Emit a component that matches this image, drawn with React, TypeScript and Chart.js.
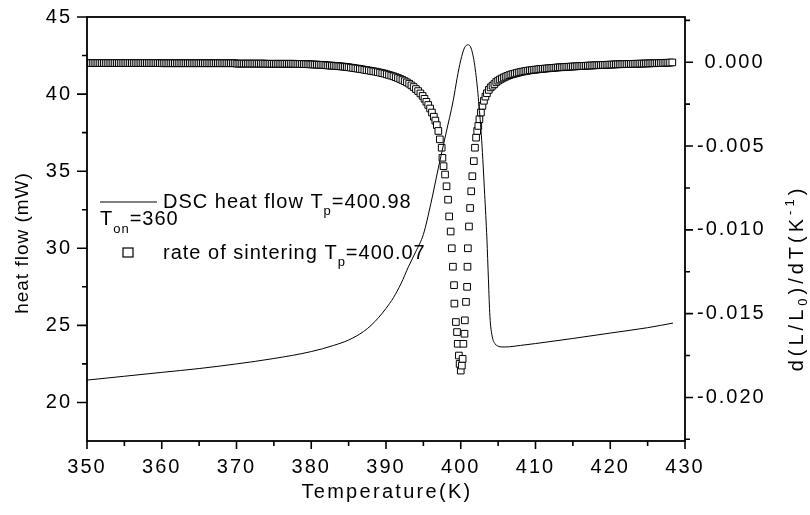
import React, { useEffect, useRef } from 'react';
import { Chart, registerables } from 'chart.js';

Chart.register(...registerables);

// ---------- data ----------
const dscTemp = [
  350, 355, 360, 365, 370, 375, 380, 383, 385, 387, 388, 389, 390, 391, 392, 393, 394, 395,
  396, 397, 398, 399, 399.5, 400, 400.5, 401, 401.5, 402, 402.4, 402.8, 403.2, 403.5, 403.7,
  403.9, 404.2, 404.6, 405, 405.5, 406, 408, 410, 415, 420, 425, 428.4,
];
const dscHeatFlow = [
  21.45, 21.7, 21.95, 22.2, 22.5, 22.85, 23.3, 23.7, 24.05, 24.6, 25.0, 25.5, 26.1, 26.8, 27.7,
  28.8, 29.8, 30.9, 32.9, 35.2, 37.4, 39.6, 41.0, 42.2, 43.0, 43.2, 42.8, 41.4, 39.5, 37.0, 33.5,
  30.6, 28.0, 25.6, 24.3, 23.8, 23.65, 23.6, 23.6, 23.7, 23.82, 24.15, 24.5, 24.85, 25.15,
];

const sinterTemp = [
  350, 350.25, 350.5, 350.75, 351, 351.25, 351.5, 351.75, 352, 352.25, 352.5, 352.75, 353, 353.25, 353.5, 353.75,
  354, 354.25, 354.5, 354.75, 355, 355.25, 355.5, 355.75, 356, 356.25, 356.5, 356.75, 357, 357.25, 357.5, 357.75,
  358, 358.25, 358.5, 358.75, 359, 359.25, 359.5, 359.75, 360, 360.25, 360.5, 360.75, 361, 361.25, 361.5, 361.75,
  362, 362.25, 362.5, 362.75, 363, 363.25, 363.5, 363.75, 364, 364.25, 364.5, 364.75, 365, 365.25, 365.5, 365.75,
  366, 366.25, 366.5, 366.75, 367, 367.25, 367.5, 367.75, 368, 368.25, 368.5, 368.75, 369, 369.25, 369.5, 369.75,
  370, 370.25, 370.5, 370.75, 371, 371.25, 371.5, 371.75, 372, 372.25, 372.5, 372.75, 373, 373.25, 373.5, 373.75,
  374, 374.25, 374.5, 374.75, 375, 375.25, 375.5, 375.75, 376, 376.25, 376.5, 376.75, 377, 377.25, 377.5, 377.75,
  378, 378.25, 378.5, 378.75, 379, 379.25, 379.5, 379.75, 380, 380.25, 380.5, 380.75, 381, 381.25, 381.5, 381.75,
  382, 382.25, 382.5, 382.75, 383, 383.25, 383.5, 383.75, 384, 384.25, 384.5, 384.75,
  385, 385.3, 385.6, 385.9, 386.2, 386.5, 386.8, 387.1, 387.4, 387.7, 388, 388.3, 388.6, 388.9,
  389.2, 389.5, 389.8, 390.1, 390.4, 390.7, 391, 391.3, 391.6, 391.9, 392.2, 392.5, 392.8, 393.1,
  393.4, 393.7, 394, 394.3, 394.6, 394.9, 395.15, 395.4, 395.65, 395.9, 396.15, 396.4, 396.6,
  396.8, 397.0, 397.2, 397.45, 397.55, 397.7, 397.9, 398.1, 398.3, 398.45,
  398.65, 398.8, 398.95, 399.1, 399.15, 399.35, 399.5, 399.6, 399.75, 399.85, 400.0,
  400.15, 400.25, 400.35, 400.5, 400.55, 400.7, 400.85, 400.9, 400.95, 401.1, 401.25, 401.4,
  401.55, 401.75, 401.9, 402.05, 402.2, 402.35, 402.5, 402.7, 402.9, 403.1, 403.3, 403.5, 403.75,
  404.0, 404.25, 404.5, 404.75,
  405, 405.25, 405.5, 405.75, 406, 406.25, 406.5, 406.75, 407, 407.25, 407.5, 407.75,
  408, 408.25, 408.5, 408.75, 409, 409.25, 409.5, 409.75, 410, 410.25, 410.5, 410.75,
  411, 411.25, 411.5, 411.75, 412, 412.25, 412.5, 412.75, 413, 413.25, 413.5, 413.75,
  414, 414.25, 414.5, 414.75, 415, 415.25, 415.5, 415.75, 416, 416.25, 416.5, 416.75,
  417, 417.25, 417.5, 417.75, 418, 418.25, 418.5, 418.75, 419, 419.25, 419.5, 419.75,
  420, 420.25, 420.5, 420.75, 421, 421.25, 421.5, 421.75, 422, 422.25, 422.5, 422.75,
  423, 423.25, 423.5, 423.75, 424, 424.25, 424.5, 424.75, 425, 425.25, 425.5, 425.75,
  426, 426.25, 426.5, 426.75, 427, 427.25, 427.5, 427.75, 428, 428.3,
];
const sinterRate = [
  // 350 - 359.75
  -0.00005, -0.00005, -0.00005, -0.00005, -0.00005, -0.00005, -0.00005, -0.00005, -0.00005, -0.00005,
  -0.00005, -0.00005, -0.00005, -0.00005, -0.00005, -0.00005, -0.00005, -0.00005, -0.00005, -0.00005,
  -0.00005, -0.00005, -0.00005, -0.00005, -0.00005, -0.00005, -0.00005, -0.00005, -0.00005, -0.00005,
  -0.00005, -0.00005, -0.00005, -0.00005, -0.00005, -0.00005, -0.00005, -0.00005, -0.00005, -0.00005,
  // 360 - 369.75
  -0.00006, -0.00006, -0.00006, -0.00006, -0.00006, -0.00006, -0.00006, -0.00006, -0.00006, -0.00006,
  -0.00006, -0.00006, -0.00006, -0.00006, -0.00006, -0.00006, -0.00006, -0.00006, -0.00006, -0.00006,
  -0.00006, -0.00006, -0.00006, -0.00006, -0.00006, -0.00006, -0.00006, -0.00006, -0.00006, -0.00006,
  -0.00006, -0.00006, -0.00006, -0.00006, -0.00006, -0.00006, -0.00006, -0.00006, -0.00006, -0.00006,
  // 370 - 377.75
  -0.00008, -0.00008, -0.00008, -0.00008, -0.00008, -0.00008, -0.00008, -0.00008, -0.00008, -0.00008,
  -0.00008, -0.00008, -0.00008, -0.00008, -0.00008, -0.00008, -0.00009, -0.00009, -0.00009, -0.00009,
  -0.00009, -0.00009, -0.00009, -0.00009, -0.00009, -0.00009, -0.00009, -0.00009, -0.00009, -0.00009,
  -0.00009, -0.00009,
  // 378 - 384.75
  -0.0001, -0.0001, -0.0001, -0.0001, -0.00011, -0.00011, -0.00012, -0.00012, -0.00013, -0.00013,
  -0.00014, -0.00014, -0.00015, -0.00015, -0.00016, -0.00016, -0.00018, -0.00019, -0.0002, -0.0002,
  -0.00021, -0.00022, -0.00023, -0.00024, -0.00025, -0.00026, -0.00027, -0.00028,
  // 385 - 400.0
  -0.0003, -0.00032, -0.00034, -0.00036, -0.00038, -0.0004, -0.00042, -0.00045, -0.00047, -0.00049,
  -0.00052, -0.00054, -0.00056, -0.00059, -0.00062, -0.00065, -0.00068, -0.00072, -0.00076, -0.0008,
  -0.00084, -0.00089, -0.00094, -0.001, -0.00106, -0.00113, -0.0012, -0.00128, -0.00138, -0.00148,
  -0.0016, -0.00172, -0.00186, -0.00201, -0.00218, -0.00236, -0.00255, -0.00276, -0.003, -0.00325,
  -0.00348, -0.00375, -0.0041, -0.0046, -0.0051, -0.0057, -0.0062, -0.0067, -0.0074, -0.0082, -0.0092,
  -0.0101, -0.0111, -0.0122, -0.0133, -0.0144, -0.0155, -0.0161, -0.0168, -0.0175, -0.018, -0.0184,
  // 400.15 - 404.75
  -0.0181, -0.0177, -0.0168, -0.0162, -0.0154, -0.0143, -0.0134, -0.0122, -0.0111, -0.0098, -0.0087,
  -0.0077, -0.0068, -0.0059, -0.0051, -0.0045, -0.0041, -0.0038, -0.0034, -0.003, -0.0026, -0.0023,
  -0.00205, -0.00185, -0.00165, -0.0015, -0.0014, -0.0013, -0.00118,
  // 405 - 407.75
  -0.0011, -0.00103, -0.00097, -0.00091, -0.00086, -0.00081, -0.00077, -0.00073, -0.0007, -0.00067,
  -0.00064, -0.00061,
  // 408 - 410.75
  -0.00058, -0.00056, -0.00054, -0.00052, -0.0005, -0.00048, -0.00047, -0.00045, -0.00044, -0.00043,
  -0.00041, -0.0004,
  // 411 - 413.75
  -0.00039, -0.00038, -0.00037, -0.00036, -0.00035, -0.00034, -0.00033, -0.00032, -0.00031, -0.0003,
  -0.0003, -0.00029,
  // 414 - 416.75
  -0.00028, -0.00027, -0.00027, -0.00026, -0.00025, -0.00025, -0.00024, -0.00023, -0.00023, -0.00022,
  -0.00022, -0.00021,
  // 417 - 419.75
  -0.0002, -0.0002, -0.00019, -0.00019, -0.00018, -0.00018, -0.00017, -0.00017, -0.00016, -0.00016,
  -0.00015, -0.00015,
  // 420 - 422.75
  -0.00014, -0.00014, -0.00013, -0.00013, -0.00012, -0.00012, -0.00012, -0.00011, -0.00011, -0.00011,
  -0.0001, -0.0001,
  // 423 - 425.75
  -0.0001, -0.00009, -0.00009, -0.00009, -0.00008, -0.00008, -0.00008, -0.00007, -0.00007, -0.00007,
  -0.00006, -0.00006,
  // 426 - 428.3
  -0.00006, -0.00005, -0.00005, -0.00005, -0.00004, -0.00004, -0.00003, -0.00003, -0.00002, -0.00001,
];

const xTicks = [350, 360, 370, 380, 390, 400, 410, 420, 430];
const xMinorTicks = [355, 365, 375, 385, 395, 405, 415, 425];
const leftTicks = [20, 25, 30, 35, 40, 45];
const leftMinorTicks = [22.5, 27.5, 32.5, 37.5, 42.5];
const rightTicks = [-0.02, -0.015, -0.01, -0.005, 0];
const rightMinorTicks = [-0.0225, -0.0175, -0.0125, -0.0075, -0.0025, 0.0025];

const xTitle = 'Temperature(K)';
const leftTitle = 'heat flow (mW)';
const dscLegend = ['DSC heat flow T', 'p', '=400.98'];
const onsetLegend = ['T', 'on', '=360'];
const sinterLegend = ['rate of sintering T', 'p', '=400.07'];

const FAMILY = '"Liberation Sans", Arial, Helvetica, sans-serif';
const TICK_SPACING = '2px';

type Part = { t: string; size: number; dy: number };

function drawParts(ctx: CanvasRenderingContext2D, x: number, y: number, parts: Part[]) {
  let cx = x;
  for (const p of parts) {
    ctx.font = `${p.size}px ${FAMILY}`;
    ctx.fillText(p.t, cx, y + p.dy);
    cx += ctx.measureText(p.t).width;
  }
  return cx - x;
}

function partsWidth(ctx: CanvasRenderingContext2D, parts: Part[]) {
  let w = 0;
  for (const p of parts) {
    ctx.font = `${p.size}px ${FAMILY}`;
    w += ctx.measureText(p.t).width;
  }
  return w;
}

const decorPlugin = {
  id: 'decor',
  beforeUpdate(chart: any) {
    (chart.ctx as any).letterSpacing = TICK_SPACING;
  },
  beforeDraw(chart: any) {
    (chart.ctx as any).letterSpacing = TICK_SPACING;
  },
  afterDraw(chart: any) {
    const ctx: CanvasRenderingContext2D = chart.ctx;
    const { left, right, top, bottom } = chart.chartArea;
    const sx = chart.scales.x;
    const sy = chart.scales.y;
    const sy2 = chart.scales.y2;
    ctx.save();
    ctx.strokeStyle = '#000';
    ctx.lineWidth = 1.8;
    ctx.strokeRect(left, top, right - left, bottom - top);

    ctx.lineWidth = 1.6;
    ctx.beginPath();
    for (const v of xTicks) {
      const px = sx.getPixelForValue(v);
      ctx.moveTo(px, bottom);
      ctx.lineTo(px, bottom + 8);
    }
    for (const v of xMinorTicks) {
      const px = sx.getPixelForValue(v);
      ctx.moveTo(px, bottom);
      ctx.lineTo(px, bottom + 5);
    }
    for (const v of leftTicks) {
      const py = sy.getPixelForValue(v);
      ctx.moveTo(left, py);
      ctx.lineTo(left - 10, py);
    }
    for (const v of leftMinorTicks) {
      const py = sy.getPixelForValue(v);
      ctx.moveTo(left, py);
      ctx.lineTo(left - 5, py);
    }
    for (const v of rightTicks) {
      const py = sy2.getPixelForValue(v);
      ctx.moveTo(right, py);
      ctx.lineTo(right + 8, py);
    }
    for (const v of rightMinorTicks) {
      const py = sy2.getPixelForValue(v);
      if (py < top || py > bottom) continue;
      ctx.moveTo(right, py);
      ctx.lineTo(right + 5, py);
    }
    ctx.stroke();

    ctx.fillStyle = '#000';
    ctx.textBaseline = 'middle';

    // x title
    (ctx as any).letterSpacing = '2.3px';
    ctx.font = `20px ${FAMILY}`;
    ctx.textAlign = 'center';
    ctx.fillText(xTitle, (left + right) / 2 + 1, 492);

    // left title
    (ctx as any).letterSpacing = '1px';
    ctx.font = `19px ${FAMILY}`;
    ctx.save();
    ctx.translate(23, 243);
    ctx.rotate(-Math.PI / 2);
    ctx.fillText(leftTitle, 0, 0);
    ctx.restore();

    // right title  d(L/L0)/dT(K-1)
    ctx.textAlign = 'left';
    (ctx as any).letterSpacing = '4px';
    const rParts: Part[] = [
      { t: 'd(L/L', size: 20, dy: 0 },
      { t: '0', size: 13, dy: 6 },
      { t: ')/dT(K', size: 20, dy: 0 },
      { t: '-1', size: 13, dy: -7 },
      { t: ')', size: 20, dy: 0 },
    ];
    const rw = partsWidth(ctx, rParts);
    ctx.save();
    ctx.translate(797, 278);
    ctx.rotate(-Math.PI / 2);
    drawParts(ctx, -rw / 2, 0, rParts);
    ctx.restore();

    // legend
    (ctx as any).letterSpacing = '1px';
    ctx.lineWidth = 1;
    ctx.beginPath();
    ctx.moveTo(100, 202);
    ctx.lineTo(157, 202);
    ctx.stroke();
    drawParts(ctx, 163, 202, [
      { t: dscLegend[0], size: 20, dy: 0 },
      { t: dscLegend[1], size: 13, dy: 9 },
      { t: dscLegend[2], size: 20, dy: 0 },
    ]);
    drawParts(ctx, 100, 219, [
      { t: onsetLegend[0], size: 20, dy: 0 },
      { t: onsetLegend[1], size: 13, dy: 10 },
      { t: onsetLegend[2], size: 20, dy: 0 },
    ]);
    ctx.lineWidth = 1.2;
    ctx.fillStyle = '#fff';
    ctx.fillRect(123, 248, 10, 9);
    ctx.strokeRect(123, 248, 10, 9);
    ctx.fillStyle = '#000';
    drawParts(ctx, 163, 253, [
      { t: sinterLegend[0], size: 20, dy: 0 },
      { t: sinterLegend[1], size: 13, dy: 9 },
      { t: sinterLegend[2], size: 20, dy: 0 },
    ]);
    ctx.restore();
    (ctx as any).letterSpacing = TICK_SPACING;
  },
};

export default function App() {
  const ref = useRef<HTMLCanvasElement>(null);
  useEffect(() => {
    const canvas = ref.current!;
    const tickFont = { family: FAMILY, size: 20 };
    const chart = new Chart(canvas, {
      type: 'line',
      data: {
        datasets: [
          {
            label: 'DSC heat flow',
            data: dscTemp.map((t, i) => ({ x: t, y: dscHeatFlow[i] })),
            yAxisID: 'y',
            borderColor: '#000',
            borderWidth: 1,
            pointRadius: 0,
            cubicInterpolationMode: 'monotone',
            fill: false,
          },
          {
            label: 'rate of sintering',
            data: sinterTemp.map((t, i) => ({ x: t, y: sinterRate[i] })),
            yAxisID: 'y2',
            showLine: false,
            pointStyle: 'rect',
            pointRadius: 4.7,
            pointBorderWidth: 1,
            pointBorderColor: '#000',
            pointBackgroundColor: '#fff',
            borderColor: '#000',
            backgroundColor: '#fff',
          },
        ],
      } as any,
      options: {
        responsive: false,
        animation: false,
        devicePixelRatio: 1,
        layout: { padding: { top: 17, left: 0, right: 0, bottom: 0 } },
        plugins: { legend: { display: false }, tooltip: { enabled: false } },
        scales: {
          x: {
            type: 'linear',
            min: 350,
            max: 430,
            afterBuildTicks: (s: any) => {
              s.ticks = xTicks.map((v) => ({ value: v }));
            },
            afterFit: (s: any) => {
              s.height = 74;
              s.paddingLeft = 0;
              s.paddingRight = 0;
            },
            grid: { display: false, drawTicks: false },
            border: { display: false },
            ticks: {
              font: tickFont,
              color: '#000',
              padding: 14,
              maxRotation: 0,
              autoSkip: false,
              callback: (v: any) => String(v),
            },
          },
          y: {
            type: 'linear',
            position: 'left',
            min: 17.5,
            max: 45,
            afterBuildTicks: (s: any) => {
              s.ticks = leftTicks.map((v) => ({ value: v }));
            },
            afterFit: (s: any) => {
              s.width = 87;
              s.paddingTop = 0;
              s.paddingBottom = 0;
            },
            grid: { display: false, drawTicks: false },
            border: { display: false },
            ticks: {
              font: tickFont,
              color: '#000',
              padding: 15,
              autoSkip: false,
              callback: (v: any) => String(v),
            },
          },
          y2: {
            type: 'linear',
            position: 'right',
            min: -0.0226,
            max: 0.0027,
            afterBuildTicks: (s: any) => {
              s.ticks = rightTicks.map((v) => ({ value: v }));
            },
            afterFit: (s: any) => {
              s.width = 125;
              s.paddingTop = 0;
              s.paddingBottom = 0;
            },
            grid: { display: false, drawTicks: false },
            border: { display: false },
            ticks: {
              font: tickFont,
              color: '#000',
              padding: 12,
              autoSkip: false,
              callback: (v: any) => (v === 0 ? ' 0.000' : Number(v).toFixed(3)),
            },
          },
        },
      } as any,
      plugins: [decorPlugin as any],
    });
    return () => chart.destroy();
  }, []);
  return (
    <div style={{ position: 'absolute', left: 0, top: 0, width: 810, height: 515, background: '#fff' }}>
      <canvas ref={ref} width={810} height={515} style={{ display: 'block', width: 810, height: 515 }} />
    </div>
  );
}
